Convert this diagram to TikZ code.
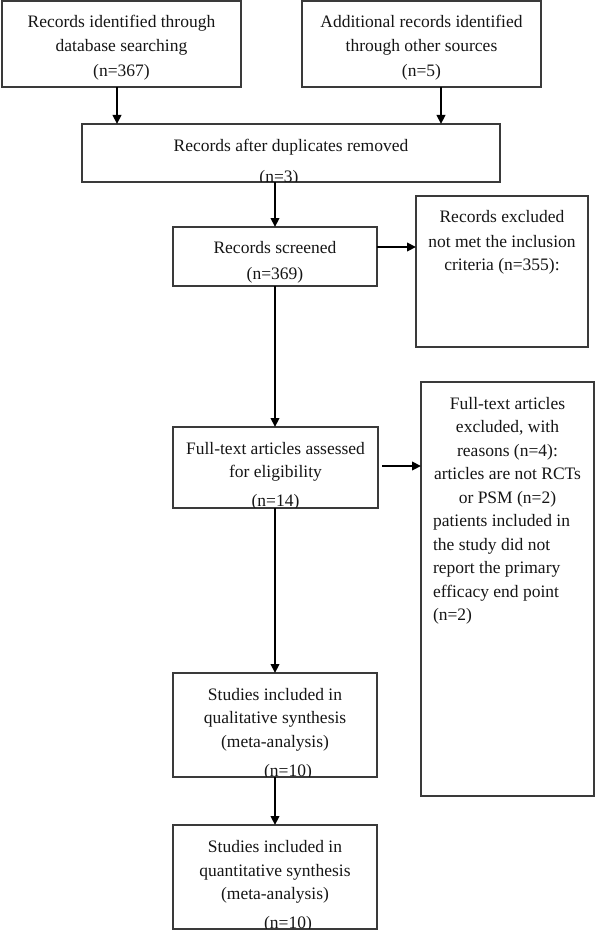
\documentclass[tikz,border=0pt]{standalone}
\usepackage{fontspec}
\setmainfont{Liberation Serif}
\usetikzlibrary{arrows.meta,calc}
\definecolor{boxgray}{HTML}{3A3A3A}
\definecolor{inkcol}{HTML}{151515}
\newcommand\boxfont{\fontsize{17.5pt}{23.5pt}\selectfont}
\newcommand\mystrut{\rule{0pt}{14pt}}
\tikzset{
  box/.style={draw=boxgray, line width=1.3pt, inner sep=0pt, outer sep=0pt, fill=none},
  txt/.style={font=\boxfont, text=inkcol, align=center, inner sep=0pt, outer sep=0pt, anchor=north},
  txtl/.style={font=\boxfont, text=inkcol, align=left, inner sep=0pt, outer sep=0pt, anchor=north west},
  arr/.style={draw=black, line width=2.2pt, -{Triangle[length=9pt,width=8.5pt]}},
}
\begin{document}
\begin{tikzpicture}[x=1pt,y=1pt]
\useasboundingbox (0,0) rectangle (596,-931);
% boxes
\node[box, minimum width=239pt, minimum height=86pt] (rdb) at (121.5,-44) {};
\node[box, minimum width=239pt, minimum height=86pt] (rot) at (421.5,-44) {};
\node[box, minimum width=418pt, minimum height=58pt] (dup) at (291,-153) {};
\node[box, minimum width=204pt, minimum height=59pt] (scr) at (275,-256.5) {};
\node[box, minimum width=172pt, minimum height=151pt] (ex1) at (502,-271.5) {};
\node[box, minimum width=205pt, minimum height=81pt] (ft) at (275.5,-467.5) {};
\node[box, minimum width=173pt, minimum height=414pt] (ex2) at (507.5,-589) {};
\node[box, minimum width=204pt, minimum height=104pt] (qual) at (275,-725) {};
\node[box, minimum width=204pt, minimum height=104pt] (quan) at (275,-877) {};
% texts
\node[txt] (rdbt) at (121.5,-14) {\mystrut Records identified through\\\mystrut database searching\\[2pt]\mystrut (n=367)};
\node[txt] (rott) at (421.5,-14) {\mystrut Additional records identified\\\mystrut through other sources\\[2pt]\mystrut (n=5)};
\begin{scope}
\clip ([shift={(0.7pt,0.7pt)}]dup.south west) rectangle (dup.north east);
\node[txt] (dupt) at (291,-137) {\mystrut Records after duplicates removed\\[7.5pt]\mystrut\hspace*{-24pt}(n=3)};
\end{scope}
\node[txt] (scrt) at (275,-239) {\mystrut Records screened\\[2.5pt]\mystrut (n=369)};
\node[txt] (ex1t) at (502,-208) {\mystrut Records excluded\\[1.5pt]\mystrut not met the inclusion\\\mystrut criteria (n=355):};
\begin{scope}
\clip ([shift={(0.7pt,0.7pt)}]ft.south west) rectangle (ft.north east);
\node[txt] (ftt) at (275.5,-440) {\mystrut Full-text articles assessed\\\mystrut for eligibility\\[5pt]\mystrut (n=14)};
\end{scope}
\node[txt] (ex2t) at (507.5,-395) {\mystrut Full-text articles\\\mystrut excluded, with\\\mystrut reasons (n=4):\\\mystrut articles are not RCTs\\\mystrut or PSM (n=2)};
\node[txtl] (ex2l) at (433,-512.5) {\mystrut patients included in\\\mystrut the study did not\\\mystrut report the primary\\\mystrut efficacy end point\\\mystrut (n=2)};
\begin{scope}
\clip ([shift={(0.7pt,0.7pt)}]qual.south west) rectangle (qual.north east);
\node[txt] (qualt) at (275,-686) {\mystrut Studies included in\\\mystrut qualitative synthesis\\\mystrut (meta-analysis)\\[5.5pt]\mystrut\hspace*{26pt}(n=10)};
\end{scope}
\begin{scope}
\clip ([shift={(0.7pt,0.7pt)}]quan.south west) rectangle (quan.north east);
\node[txt] (quant) at (275,-838.5) {\mystrut Studies included in\\\mystrut quantitative synthesis\\\mystrut (meta-analysis)\\[5.5pt]\mystrut\hspace*{26pt}(n=10)};
\end{scope}
% connectors
\draw[arr] ([xshift=-4.5pt]rdb.south) -- ([xshift=-4.5pt]rdb.south |- dup.north);
\draw[arr] ([xshift=19.5pt]rot.south) -- ([xshift=19.5pt]rot.south |- dup.north);
\draw[arr, line width=2.8pt] (dup.south -| scr.north) -- (scr.north);
\draw[arr] ([yshift=9.5pt]scr.east) -- ([yshift=9.5pt]scr.east -| ex1.west);
\draw[arr, line width=2.6pt] (scr.south) -- (ft.north -| scr.south);
\draw[arr] ([xshift=4pt,yshift=1.5pt]ft.east) -- ([yshift=1.5pt]ft.east -| ex2.west);
\draw[arr, line width=2.4pt] (ft.south -| qual.north) -- (qual.north);
\draw[arr, line width=2.4pt] (qual.south) -- (quan.north);
\end{tikzpicture}
\end{document}
